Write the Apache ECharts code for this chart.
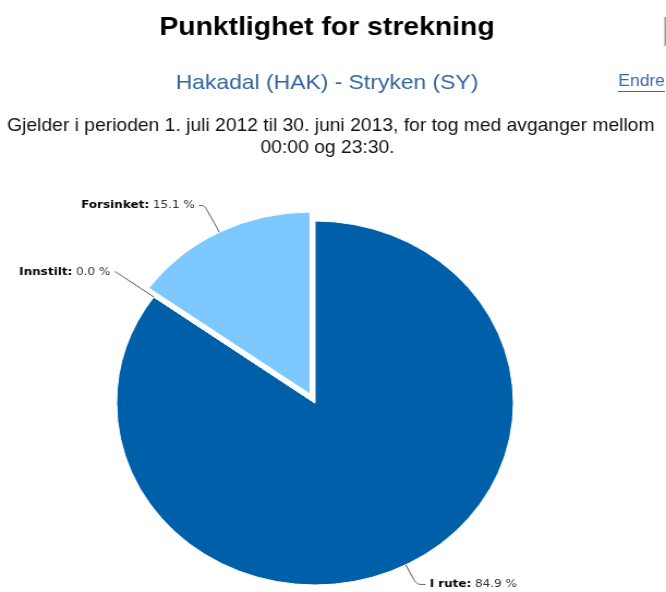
<!DOCTYPE html>
<html>
<head>
<meta charset="utf-8">
<script src="https://cdn.jsdelivr.net/npm/echarts@6/dist/echarts.min.js"></script>
<style>
html,body{margin:0;padding:0;background:#fff;overflow:hidden;}
#chart{width:611px;height:592px;transform:scaleX(1.09);transform-origin:0 0;}
</style>
</head>
<body>
<div id="chart"></div>
<script>
const categories = ['I rute', 'Innstilt', 'Forsinket'];
const values = [84.9, 0.0, 15.1];
const colors = ['#005FA9', '#005FA9', '#7DC8FF'];
const titleText = 'Punktlighet for strekning';
const subtitleText = 'Hakadal (HAK) - Stryken (SY)';
const noteLine1 = 'Gjelder i perioden 1. juli 2012 til 30. juni 2013, for tog med avganger mellom';
const noteLine2 = '00:00 og 23:30.';
const linkText = 'Endre';

const lineLengths = [[22, 8], [43, 1], [30, 5]];

const chart = echarts.init(document.getElementById('chart'), null, {renderer: 'canvas'});
const data = categories.map((c, i) => ({
  name: c,
  value: values[i],
  selected: c === 'Forsinket',
  itemStyle: {color: colors[i]},
  labelLine: {length: lineLengths[i][0], length2: lineLengths[i][1]}
}));

chart.setOption({
  animation: false,
  graphic: [
    {type: 'text', x: 300, y: 27.5, style: {text: titleText, font: 'bold 26px "Liberation Sans", Arial, sans-serif', fill: '#000', textAlign: 'center', textVerticalAlign: 'middle'}},
    {type: 'text', x: 300, y: 83.5, style: {text: subtitleText, font: '21px "Liberation Sans", Arial, sans-serif', fill: '#33669C', textAlign: 'center', textVerticalAlign: 'middle'}},
    {type: 'text', x: 303.5, y: 126, style: {text: noteLine1, font: '17.7px "Liberation Sans", Arial, sans-serif', fill: '#111', textAlign: 'center', textVerticalAlign: 'middle'}},
    {type: 'text', x: 300.5, y: 148, style: {text: noteLine2, font: '17.7px "Liberation Sans", Arial, sans-serif', fill: '#111', textAlign: 'center', textVerticalAlign: 'middle'}},
    {type: 'text', x: 610, y: 82, style: {text: linkText, font: '16px "Liberation Sans", Arial, sans-serif', fill: '#3A64B0', textAlign: 'right', textVerticalAlign: 'middle'}},
    {type: 'line', shape: {x1: 567, y1: 91.5, x2: 610, y2: 91.5}, style: {stroke: '#3A64B0', lineWidth: 1}},
    {type: 'rect', shape: {x: 609.5, y: 17, width: 1.5, height: 29}, style: {fill: '#999'}}
  ],
  series: [{
    type: 'pie',
    center: [289, 403],
    radius: 182,
    startAngle: 90,
    clockwise: true,
    selectedMode: 'single',
    selectedOffset: 10,
    avoidLabelOverlap: false,
    itemStyle: {borderColor: '#fff', borderWidth: 1},
    emphasis: {disabled: true},
    label: {
      show: true,
      position: 'outside',
      distanceToLabelLine: 4,
      formatter: p => '{n|' + p.name + ':} {v|' + p.value.toFixed(1) + ' %}',
      rich: {
        n: {fontFamily: '"DejaVu Sans", Verdana, sans-serif', fontWeight: 'bold', fontSize: 11, color: '#000'},
        v: {fontFamily: '"DejaVu Sans", Verdana, sans-serif', fontSize: 11, color: '#333'}
      }
    },
    labelLine: {show: true, smooth: 0.3, lineStyle: {color: '#555', width: 1}},
    data: data
  }]
});
</script>
</body>
</html>
